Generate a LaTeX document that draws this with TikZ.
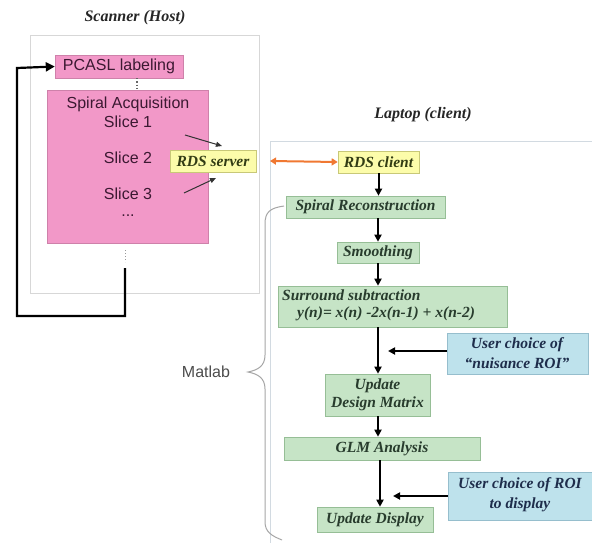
\documentclass[tikz,border=0pt]{standalone}
\usepackage{fontspec}
\setmainfont{Liberation Serif}
\setsansfont{Liberation Sans}
\usetikzlibrary{arrows.meta}
\definecolor{pinkfill}{RGB}{242,152,200}
\definecolor{pinktext}{RGB}{60,25,50}
\definecolor{greenfill}{RGB}{198,228,198}
\definecolor{greenline}{RGB}{150,190,150}
\definecolor{greentext}{RGB}{40,60,45}
\definecolor{yellowfill}{RGB}{252,252,170}
\definecolor{yellowline}{RGB}{200,200,120}
\definecolor{yellowtext}{RGB}{50,60,20}
\definecolor{bluefill}{RGB}{190,226,236}
\definecolor{blueline}{RGB}{150,190,205}
\definecolor{bluetext}{RGB}{30,45,75}
\definecolor{frame}{RGB}{215,215,215}
\definecolor{laptopframe}{RGB}{210,218,225}
\definecolor{orangearrow}{RGB}{240,120,50}
\tikzset{
  pinkbox/.style={fill=pinkfill, draw=pinkfill!85!black, line width=0.4pt, inner sep=0pt, text=pinktext, font=\sffamily\fontsize{16}{18}\selectfont},
  sanstext/.style={inner sep=0pt, text=pinktext, font=\sffamily\fontsize{16}{18}\selectfont},
  greenbox/.style={fill=greenfill, draw=greenline, line width=0.6pt, inner sep=0pt, text=greentext, font=\bfseries\itshape\fontsize{15.5}{18}\selectfont, align=center},
  greentxt/.style={inner sep=0pt, text=greentext, font=\bfseries\itshape\fontsize{15.5}{18}\selectfont, anchor=west},
  yellowbox/.style={fill=yellowfill, draw=yellowline, line width=0.6pt, inner sep=0pt, text=yellowtext, font=\bfseries\itshape\fontsize{15.5}{18}\selectfont},
  bluebox/.style={fill=bluefill, draw=blueline, line width=0.6pt, inner sep=0pt},
  bluetxt/.style={inner sep=0pt, text=bluetext, font=\bfseries\itshape\fontsize{15.5}{18}\selectfont},
  titletxt/.style={inner sep=0pt, text=black!85, font=\bfseries\itshape\fontsize{16}{18}\selectfont},
  flow/.style={line width=2pt, black, -{Triangle[length=7pt,width=7pt]}},
  thinarrow/.style={line width=1pt, black!80, -{Triangle[length=6pt,width=5pt]}},
}
\begin{document}
\begin{tikzpicture}[x=1pt,y=-1pt]
\useasboundingbox (0,0) rectangle (592,543);
\fill[white] (0,0) rectangle (592,543);
\clip (0,0) rectangle (592,543);

% Scanner frame
\node[titletxt] (scanT) at (135,18) {Scanner (Host)};
\draw[frame, line width=0.8pt] (30,35) rectangle (259,293);

% PCASL and spiral
\node[pinkbox, minimum width=128pt, minimum height=23pt] (pcasl) at (119,66.5) {PCASL labeling};
\node[pinkbox, minimum width=161pt, minimum height=153pt] (spiral) at (127.5,166.5) {};
\node[sanstext] (sa) at (128,104) {Spiral Acquisition};
\node[sanstext] (s1) at (128,122) {Slice 1};
\node[sanstext] (s2) at (128,158) {Slice 2};
\node[sanstext] (s3) at (128,194) {Slice 3};
\node[sanstext] (s4) at (128,216) {...};
\draw[black!60, line width=1.2pt, dotted] (pcasl.south -| 137,0) -- (spiral.north -| 137,0);

% RDS server
\node[yellowbox, minimum width=86pt, minimum height=22pt] (rdss) at (213,161) {RDS server};
\coordinate (a1s) at (185,135);
\coordinate (a1e) at (222,146);
\coordinate (a2s) at (184,193);
\coordinate (a2e) at (216,178);
\draw[thinarrow] (a1s) -- (a1e);
\draw[thinarrow] (a2s) -- (a2e);

% feedback loop
\coordinate (fb1) at (125,268);
\coordinate (fb2) at (125,316);
\coordinate (fb3) at (17,316);
\coordinate (fb4) at (17,68);
\draw[black!40, line width=1pt, dotted] (125,250) -- (125,262);
\draw[line width=2.2pt, black, -{Triangle[length=9pt,width=9pt]}] (fb1) -- (fb2) -- (fb3) -- (fb4) -- (pcasl.west);

% Laptop frame
\node[titletxt] (lapT) at (423,115) {Laptop (client)};
\draw[laptopframe, line width=0.8pt] (600,141) -- (270,141) -- (270,560);

% RDS client
\node[yellowbox, minimum width=81pt, minimum height=22pt] (rdsc) at (378.5,162) {RDS client};
\coordinate (orL) at (270,161);
\draw[orangearrow, line width=2pt, {Triangle[length=6pt,width=7pt]}-{Triangle[length=6pt,width=7pt]}] (orL) -- (rdsc.west);

% flow boxes
\node[greenbox, minimum width=159pt, minimum height=22pt] (recon) at (365.5,207) {Spiral Reconstruction};
\node[greenbox, minimum width=82pt, minimum height=21pt] (smooth) at (378,252.5) {Smoothing};
\node[greenbox, minimum width=229pt, minimum height=41pt] (surr) at (392.5,306.5) {};
\node[greentxt] (surr1) at (282,295) {Surround subtraction};
\node[greentxt] (surr2) at (297,314) {y(n)= x(n) -2x(n-1) + x(n-2)};
\node[greenbox, minimum width=105pt, minimum height=42pt] (design) at (377.5,395) {Update\\Design Matrix};
\node[greenbox, minimum width=196pt, minimum height=23pt] (glm) at (382,448.5) {GLM Analysis};
\node[greenbox, minimum width=116pt, minimum height=25pt] (disp) at (375,519.5) {Update Display};

\node[bluebox, minimum width=141pt, minimum height=41pt] (nuis) at (517.5,353.5) {};
\node[bluetxt] (nuis1) at (517,345) {User choice of};
\node[bluetxt] (nuis2) at (517,363) {``nuisance ROI''};
\node[bluebox, minimum width=152pt, minimum height=48pt] (roi) at (524,496) {};
\node[bluetxt] (roi1) at (520,485) {User choice of ROI};
\node[bluetxt] (roi2) at (520,505) {to display};

% flow arrows
\draw[flow] (rdsc.south) -- (rdsc.south |- recon.north);
\draw[flow] (smooth.north |- recon.south) -- (smooth.north);
\draw[flow] (smooth.south) -- (smooth.south |- surr.north);
\draw[flow] (surr.south -| 378,0) -- (design.north -| 378,0);
\draw[flow] (design.south -| 378,0) -- (glm.north -| 378,0);
\draw[flow] (glm.south -| 380,0) -- (disp.north -| 380,0);
\coordinate (n1) at (388,351);
\coordinate (n2) at (393,496);
\draw[flow] (nuis.west |- n1) -- (n1);
\draw[flow] (roi.west |- n2) -- (n2);

% Matlab brace
\draw[black!35, line width=1pt] (284,206) .. controls (270,208) and (265,212) .. (265,224)
  -- (265,355) .. controls (265,366) and (258,370) .. (248,372)
  .. controls (258,374) and (265,378) .. (265,389)
  -- (265,522) .. controls (265,532) and (272,536) .. (282,540);
\node[sanstext, text=black!70] (matlab) at (206,372) {Matlab};
\end{tikzpicture}
\end{document}
